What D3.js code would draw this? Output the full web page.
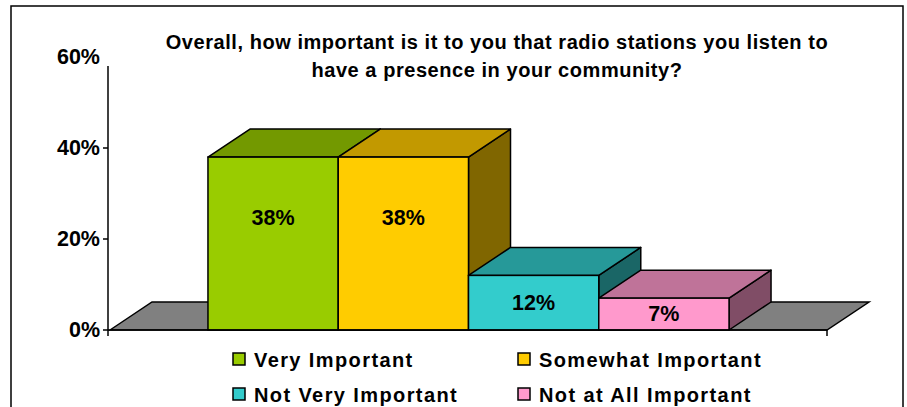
<!DOCTYPE html>
<html><head><meta charset="utf-8">
<script src="https://cdn.jsdelivr.net/npm/d3@7"></script>
<style>
html,body{margin:0;padding:0;background:#fff;}
svg{display:block;}
text{font-family:"Liberation Sans",Arial,sans-serif;font-weight:bold;fill:#000;}
</style></head>
<body>
<svg id="chart" width="907" height="407"></svg>
<script>
const titleLines = ["Overall, how important is it to you that radio stations you listen to", "have a presence in your community?"];
const categories = ["Very Important", "Somewhat Important", "Not Very Important", "Not at All Important"];
const values = [38, 38, 12, 7];
const valueLabels = ["38%", "38%", "12%", "7%"];
const frontColors = ["#99CC00", "#FFCC00", "#33CCCC", "#FF99CC"];
const topColors = ["#739900", "#C29900", "#269999", "#BF7399"];
const sideColors = ["#4D6600", "#806600", "#1A6666", "#804D66"];
const yTicks = [0, 20, 40, 60];
const yTickLabels = ["0%", "20%", "40%", "60%"];

const svg = d3.select("#chart");
const depth = {dx: 42, dy: -28};

// outer frame
svg.append("rect").attr("x", 11).attr("y", 6).attr("width", 892).attr("height", 430)
  .attr("fill", "none").attr("stroke", "#000").attr("stroke-width", 1.5);

// title
svg.append("text").attr("x", 497).attr("y", 49).attr("text-anchor", "middle")
  .style("font-size", "20px").style("letter-spacing", "0.55px")
  .selectAll("tspan").data(titleLines).join("tspan")
  .attr("x", 497).attr("dy", (d, i) => i === 0 ? 0 : 28).text(d => d);

const y = d3.scaleLinear().domain([0, 60]).range([330, 57]);
const xOuter = d3.scaleBand().domain(["all"]).range([110, 827]).paddingOuter(0.188).paddingInner(0);
const x = d3.scaleBand().domain(categories)
  .range([xOuter("all"), xOuter("all") + xOuter.bandwidth()]).padding(0);

const floorL = xOuter.range()[0], floorR = xOuter.range()[1];
const y0 = y(0);
const pts = a => a.map(p => p.join(",")).join(" ");

// floor
svg.append("polygon")
  .attr("points", pts([[floorL, y0], [floorL + depth.dx, y0 + depth.dy], [floorR + depth.dx, y0 + depth.dy], [floorR, y0]]))
  .attr("fill", "#808080").attr("stroke", "#000").attr("stroke-width", 1.5);

// bars
const g = svg.append("g");
categories.forEach((c, i) => {
  const x0 = x(c), x1 = x(c) + x.bandwidth();
  const yt = y(values[i]);
  g.append("polygon").attr("points", pts([[x1, yt], [x1 + depth.dx, yt + depth.dy], [x1 + depth.dx, y0 + depth.dy], [x1, y0]]))
    .attr("fill", sideColors[i]).attr("stroke", "#000").attr("stroke-width", 1.5).attr("stroke-linejoin", "round");
  g.append("polygon").attr("points", pts([[x0, yt], [x0 + depth.dx, yt + depth.dy], [x1 + depth.dx, yt + depth.dy], [x1, yt]]))
    .attr("fill", topColors[i]).attr("stroke", "#000").attr("stroke-width", 1.5).attr("stroke-linejoin", "round");
  g.append("rect").attr("x", x0).attr("y", yt).attr("width", x1 - x0).attr("height", y0 - yt)
    .attr("fill", frontColors[i]).attr("stroke", "#000").attr("stroke-width", 1.5);
});

// value labels
categories.forEach((c, i) => {
  const yt = y(values[i]);
  const cy = yt + Math.min((y0 - yt) / 2, 61);
  svg.append("text").attr("x", x(c) + x.bandwidth() / 2).attr("y", cy)
    .attr("text-anchor", "middle").attr("dominant-baseline", "central")
    .style("font-size", "21.5px").text(valueLabels[i]);
});

// y axis
const axisX = 108;
svg.append("line").attr("x1", axisX).attr("x2", axisX).attr("y1", y0 + 6).attr("y2", y(58))
  .attr("stroke", "#000").attr("stroke-width", 1.5);
yTicks.forEach((t, i) => {
  if (t < 60) {
    svg.append("line").attr("x1", axisX - 5).attr("x2", axisX).attr("y1", y(t)).attr("y2", y(t))
      .attr("stroke", "#000").attr("stroke-width", 1.5);
  }
  svg.append("text").attr("x", 100).attr("y", y(t)).attr("text-anchor", "end")
    .attr("dominant-baseline", "central").style("font-size", "21.5px").text(yTickLabels[i]);
});
// x axis baseline and end tick
svg.append("line").attr("x1", axisX).attr("x2", floorR).attr("y1", y0).attr("y2", y0)
  .attr("stroke", "#000").attr("stroke-width", 1.5);
svg.append("line").attr("x1", floorR).attr("x2", floorR).attr("y1", y0).attr("y2", y0 + 6)
  .attr("stroke", "#000").attr("stroke-width", 1.5);

// legend
const legendPos = [[233, 359], [518, 359], [233, 394], [518, 394]];
categories.forEach((c, i) => {
  const [lx, ly] = legendPos[i];
  svg.append("rect").attr("x", lx).attr("y", ly - 6).attr("width", 12).attr("height", 12)
    .attr("fill", frontColors[i]).attr("stroke", "#000").attr("stroke-width", 1.5);
  svg.append("text").attr("x", lx + 21).attr("y", ly + 1).attr("dominant-baseline", "central")
    .style("font-size", "20px").style("letter-spacing", "1.4px").text(c);
});
</script>
</body></html>
